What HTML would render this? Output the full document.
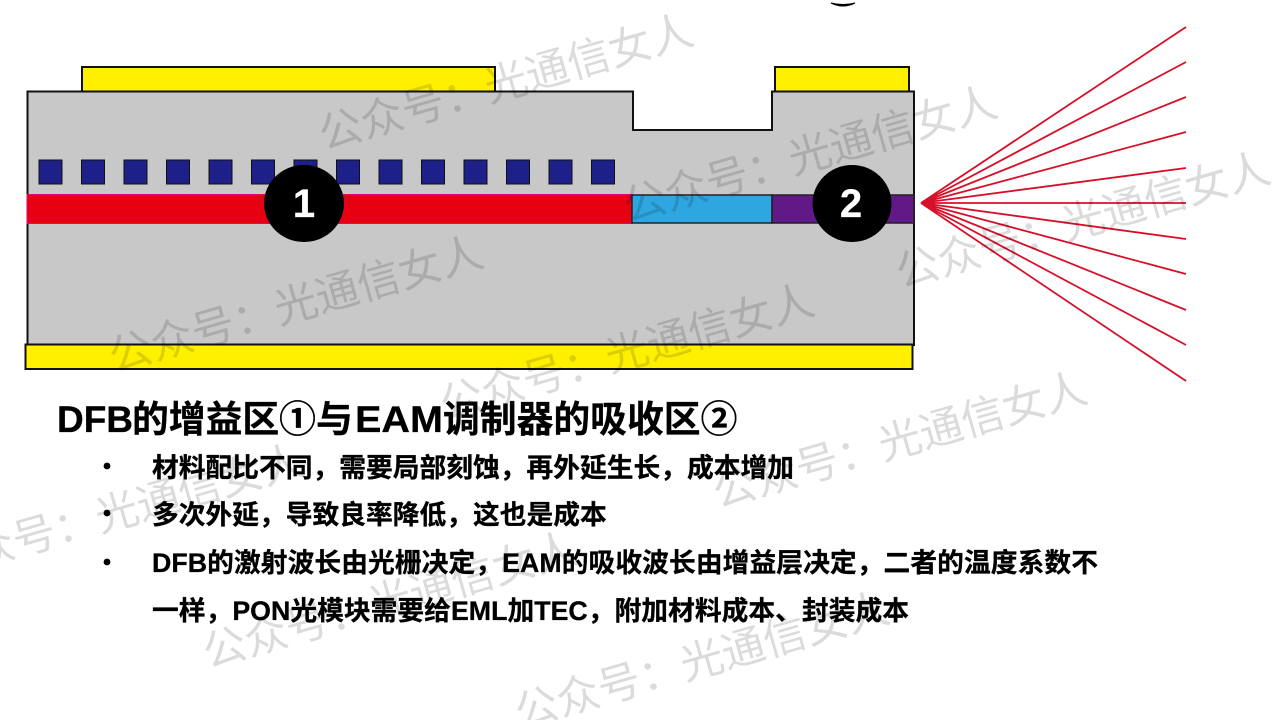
<!DOCTYPE html>
<html><head><meta charset="utf-8"><style>
html,body{margin:0;padding:0;background:#fff;width:1280px;height:720px;overflow:hidden}
svg{display:block}
.t{font-family:"Liberation Sans","Noto Sans CJK SC",sans-serif;font-weight:700;fill:#000;stroke:#000;stroke-width:.3px}
.w{font-family:"Liberation Sans","Noto Sans CJK SC",sans-serif;font-weight:400;font-size:43px;fill:#000;fill-opacity:.14}
</style></head><body>
<svg width="1280" height="720" viewBox="0 0 1280 720" xmlns="http://www.w3.org/2000/svg">
<rect width="1280" height="720" fill="#fff"/>
<path d="M831 3 Q843 9 855 3 Q843 6 831 3Z" fill="#000" stroke="#000" stroke-width="1"/>
<rect x="82" y="67" width="413" height="25" fill="#fff000" stroke="#111" stroke-width="2"/>
<rect x="775" y="67" width="134" height="25" fill="#fff000" stroke="#111" stroke-width="2"/>
<path d="M27.500 91.500H633V130H772V91.500H914V345H27.500Z" fill="#c8c8c8" stroke="#111" stroke-width="2"/>
<g fill="#1d2088" stroke="#111" stroke-width="1">
<rect x="39" y="160" width="23" height="24"/><rect x="81.500" y="160" width="23" height="24"/><rect x="124" y="160" width="23" height="24"/><rect x="166.500" y="160" width="23" height="24"/><rect x="209" y="160" width="23" height="24"/><rect x="251.500" y="160" width="23" height="24"/><rect x="294" y="160" width="23" height="24"/><rect x="336.500" y="160" width="23" height="24"/><rect x="379" y="160" width="23" height="24"/><rect x="421.500" y="160" width="23" height="24"/><rect x="464" y="160" width="23" height="24"/><rect x="506.500" y="160" width="23" height="24"/><rect x="549" y="160" width="23" height="24"/><rect x="591.500" y="160" width="23" height="24"/>
</g>
<rect x="27" y="194.500" width="605" height="29" fill="#e60012" stroke="#e4007f" stroke-width="1"/>
<rect x="632" y="195" width="140" height="28" fill="#2ea7e0" stroke="#222" stroke-width="1.500"/>
<rect x="772" y="195" width="142" height="28" fill="#601986" stroke="#222" stroke-width="1.500"/>
<ellipse cx="304" cy="203.500" rx="40" ry="38.500" fill="#000"/>
<ellipse cx="852" cy="203.500" rx="39.500" ry="38.500" fill="#000"/>
<text x="304" y="217" text-anchor="middle" class="t" style="fill:#fff;stroke:#fff;font-size:40px">1</text>
<text x="851" y="217" text-anchor="middle" class="t" style="fill:#fff;stroke:#fff;font-size:40px">2</text>
<rect x="25.500" y="344.500" width="887" height="24.500" fill="#fff000" stroke="#111" stroke-width="2"/>
<g stroke="#d7102a" stroke-width="1.800" fill="none">
<path d="M921 203L1186 27M921 203L1186 62M921 203L1186 97M921 203L1186 132M921 203L1186 168M921 203H1186M921 203L1186 239M921 203L1186 274M921 203L1186 310M921 203L1186 345M921 203L1186 381"/>
</g>
<text class="t" font-size="36.800" y="432"><tspan x="57" textLength="76" lengthAdjust="spacingAndGlyphs">DFB</tspan><tspan x="132">的增益区①与</tspan><tspan x="355" textLength="88" lengthAdjust="spacingAndGlyphs">EAM</tspan><tspan x="443">调制器的吸收区②</tspan></text>
<g fill="#000"><circle cx="107" cy="466" r="3.400"/><circle cx="107" cy="513" r="3.400"/><circle cx="107" cy="562" r="3.400"/></g>
<text class="t" font-size="26.750" x="152" y="477">材料配比不同，需要局部刻蚀，再外延生长，成本增加</text>
<text class="t" font-size="26.750" x="152" y="524">多次外延，导致良率降低，这也是成本</text>
<text class="t" font-size="26.750" x="152" y="572" textLength="946">DFB的激射波长由光栅决定，EAM的吸收波长由增益层决定，二者的温度系数不</text>
<text class="t" font-size="26.750" x="152" y="620" textLength="757">一样，PON光模块需要给EML加TEC，附加材料成本、封装成本</text>
<g>
<text class="w" transform="translate(324,150) rotate(-16)">公众号：光通信女人</text>
<text class="w" transform="translate(628,222) rotate(-16)">公众号：光通信女人</text>
<text class="w" transform="translate(901,288) rotate(-16)">公众号：光通信女人</text>
<text class="w" transform="translate(114,372) rotate(-16)">公众号：光通信女人</text>
<text class="w" transform="translate(445,420) rotate(-16)">公众号：光通信女人</text>
<text class="w" transform="translate(718,508) rotate(-16)">公众号：光通信女人</text>
<text class="w" transform="translate(-65,580) rotate(-16)">公众号：光通信女人</text>
<text class="w" transform="translate(208,668) rotate(-16)">公众号：光通信女人</text>
<text class="w" transform="translate(520,728) rotate(-16)">公众号：光通信女人</text>
</g>
</svg>
</body></html>
